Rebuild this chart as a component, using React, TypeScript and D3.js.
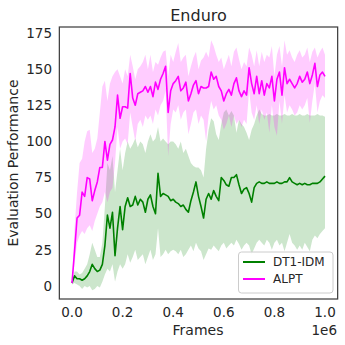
import React from "react";
import * as d3 from "d3";

const frames: number[] = d3.range(0, 101).map((i) => i * 10000);

const alptMean = [2,24,47,49,65,62,75,74,59,66,72,82,82,100,87,98,101,110,132,116,124,124,123,147,130,125,133,134,135,138,134,138,131,141,136,143,147,152,120,135,140,142,145,135,137,141,128,133,139,142,133,138,137,137,138,148,143,145,138,135,128,133,136,132,140,144,135,131,135,132,151,140,133,145,133,142,132,140,137,145,128,143,148,132,151,140,143,140,137,140,145,141,143,148,140,146,154,138,146,148,145];
const alptUpper = [3,40,65,85,88,100,107,108,92,95,102,120,138,142,128,140,145,148,150,145,140,150,145,160,152,143,150,152,155,160,150,160,148,155,153,158,162,163,145,160,155,162,168,155,158,160,145,152,158,162,150,156,158,162,158,170,166,160,155,158,150,155,160,152,162,165,157,150,155,152,165,160,152,163,152,162,155,160,158,166,145,160,166,152,170,160,163,158,155,160,163,158,160,165,155,162,165,158,162,165,160];
const alptLower = [1,15,30,35,38,36,40,42,38,45,50,55,58,65,58,65,68,85,110,95,100,102,98,120,110,100,112,115,110,118,115,118,112,122,118,125,128,135,90,112,122,120,125,115,120,122,105,112,120,122,112,118,115,100,118,128,122,125,118,115,108,112,118,110,118,112,115,110,115,112,135,120,115,125,112,122,115,120,106,125,110,104,128,112,132,120,125,122,118,120,125,122,125,130,113,128,140,120,128,132,130];

const dtMean = [2,7,5,5,4,5,7,10,15,12,10,11,15,28,49,40,51,21,40,55,39,55,61,55,56,62,56,60,58,51,60,63,55,50,78,62,64,63,62,59,60,58,57,55,56,53,51,59,65,72,62,55,47,60,64,60,66,62,59,75,73,70,69,75,75,77,70,64,67,68,64,58,68,71,72,71,71,72,71,71,71,72,71,71,72,72,75,72,71,70,71,70,71,70,70,71,71,71,72,74,76];
const dtUpper = [3,10,10,8,9,12,15,22,30,25,20,20,30,55,85,80,90,65,80,95,80,92,100,95,98,102,96,100,98,92,100,105,100,102,110,100,102,100,98,100,100,98,95,100,92,95,90,85,83,82,82,80,75,95,108,116,114,105,101,112,120,122,118,121,118,106,115,112,110,106,101,108,112,118,122,119,118,118,119,118,118,119,118,118,119,118,118,119,118,118,119,118,118,119,118,118,118,119,118,118,117];
const dtLower = [1,2,1,0,-2,0,-1,0,-3,-2,0,-1,3,8,12,10,15,3,10,15,12,15,22,16,20,25,18,20,22,15,20,25,18,22,40,20,22,25,22,24,25,24,22,25,20,22,25,28,24,30,26,24,18,22,26,25,28,26,24,28,30,26,28,30,28,32,29,25,28,30,28,22,26,30,32,30,28,32,30,25,30,32,28,30,24,30,36,30,28,25,28,25,30,27,24,32,35,33,36,38,40];

const xTicks = [0, 200000, 400000, 600000, 800000, 1000000];
const xTickLabels = ["0.0", "0.2", "0.4", "0.6", "0.8", "1.0"];
const yTicks = [0, 25, 50, 75, 100, 125, 150, 175];
const seriesNames = ["DT1-IDM", "ALPT"];

const GREEN = "#008000";
const MAGENTA = "#ff00ff";
const TEXT = "#262626";
const FONT = "DejaVu Sans, sans-serif";

export default function App() {
  const x = d3.scaleLinear().domain([0, 1e6]).range([72, 325]);
  const y = d3.scaleLinear().domain([0, 175]).range([286, 33]);
  const left = x(-0.05e6);
  const right = x(1.05e6);
  const top = 27;
  const bottom = 299;

  const line = (arr: number[]) =>
    d3.line<number>().x((_, i) => x(frames[i])).y((d) => y(d))(arr) || "";
  const area = (lo: number[], hi: number[]) =>
    d3
      .area<number>()
      .x((_, i) => x(frames[i]))
      .y0((_, i) => y(lo[i]))
      .y1((_, i) => y(hi[i]))(frames) || "";

  return (
    <svg
      width={345}
      height={345}
      style={{ position: "absolute", left: 0, top: 0, background: "#fff" }}
      fontFamily={FONT}
    >
      <rect x={0} y={0} width={345} height={345} fill="#fff" />
      <defs>
        <clipPath id="plotclip">
          <rect x={left} y={top} width={right - left} height={bottom - top} />
        </clipPath>
      </defs>
      <g clipPath="url(#plotclip)">
        <path d={area(dtLower, dtUpper)} fill={GREEN} fillOpacity={0.2} />
        <path d={line(dtMean)} fill="none" stroke={GREEN} strokeWidth={1.6} strokeLinejoin="round" />
        <path d={area(alptLower, alptUpper)} fill={MAGENTA} fillOpacity={0.2} />
        <path d={line(alptMean)} fill="none" stroke={MAGENTA} strokeWidth={1.6} strokeLinejoin="round" />
      </g>
      <rect x={left} y={top} width={right - left} height={bottom - top} fill="none" stroke="#404040" strokeWidth={1.25} />
      {yTicks.map((t) => (
        <text key={t} x={52} y={y(t)} dy="0.35em" textAnchor="end" fontSize={13.5} fill={TEXT}>
          {t}
        </text>
      ))}
      {xTicks.map((t, i) => (
        <text key={t} x={x(t)} y={317} textAnchor="middle" fontSize={13.5} fill={TEXT}>
          {xTickLabels[i]}
        </text>
      ))}
      <text x={337} y={335} textAnchor="end" fontSize={13.5} fill={TEXT}>1e6</text>
      <text x={198} y={335} textAnchor="middle" fontSize={14} fill={TEXT}>Frames</text>
      <text
        transform={`translate(18,${(top + bottom) / 2}) rotate(-90)`}
        textAnchor="middle"
        fontSize={14}
        fill={TEXT}
      >
        Evaluation Performance
      </text>
      <text x={(left + right) / 2} y={21} textAnchor="middle" fontSize={16} fill={TEXT}>Enduro</text>
      <g>
        <rect x={238.5} y={252} width={94.5} height={41} rx={3} fill="#fff" fillOpacity={0.8} stroke="#cccccc" strokeWidth={1} />
        {seriesNames.map((n, i) => (
          <g key={n}>
            <line x1={243} x2={265} y1={262 + i * 17} y2={262 + i * 17} stroke={i === 0 ? GREEN : MAGENTA} strokeWidth={2} />
            <text x={273} y={262 + i * 17} dy="0.35em" fontSize={12} fill={TEXT}>{n}</text>
          </g>
        ))}
      </g>
    </svg>
  );
}
